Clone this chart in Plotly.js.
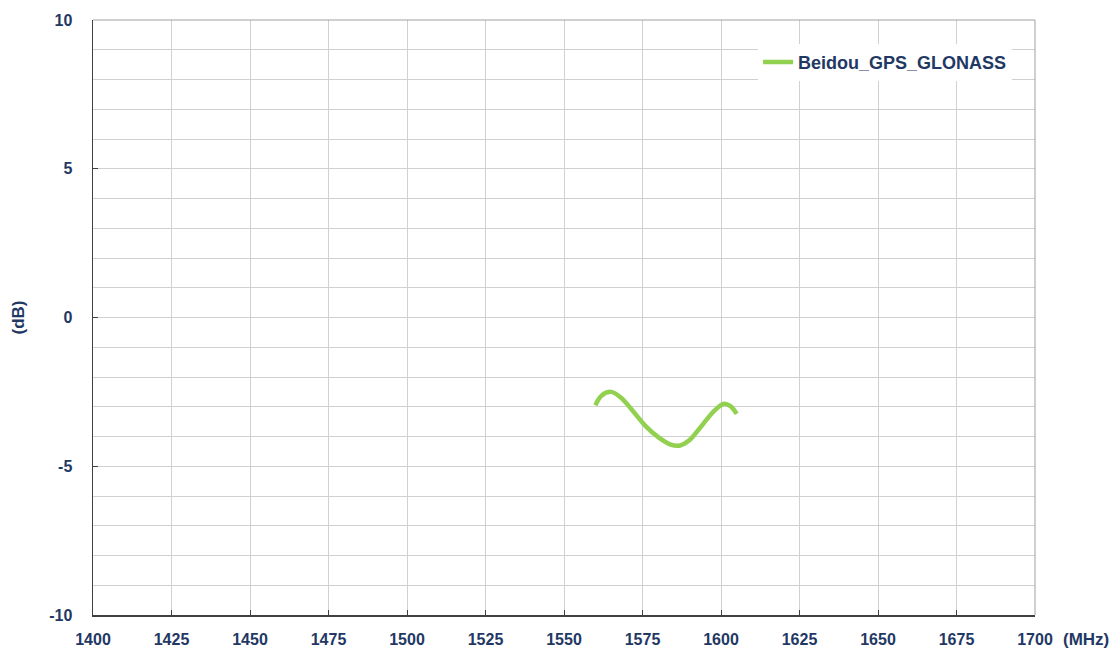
<!DOCTYPE html>
<html>
<head>
<meta charset="utf-8">
<script src="https://cdn.plot.ly/plotly-3.0.1.min.js"></script>
<style>html,body{margin:0;padding:0;background:#fff;}#chart{width:1113px;height:654px;}</style>
</head>
<body>
<div id="chart"></div>
<script>
const seriesName = "Beidou_GPS_GLONASS";
const freqMHz = [1560, 1562, 1565, 1568, 1572, 1576, 1580, 1584, 1587, 1590, 1594, 1598, 1601, 1603, 1605];
const gainDb  = [-2.95, -2.62, -2.5, -2.68, -3.15, -3.65, -4.02, -4.27, -4.3, -4.12, -3.62, -3.12, -2.9, -2.98, -3.24];
const xTicks = [1400, 1425, 1450, 1475, 1500, 1525, 1550, 1575, 1600, 1625, 1650, 1675, 1700];
const yTicks = [-10, -5, 0, 5, 10];

const txt = '#1f3864';
const fam = '"Liberation Sans", Arial, sans-serif';

Plotly.newPlot('chart', [{
  x: freqMHz, y: gainDb, name: seriesName, type: 'scatter', mode: 'lines',
  line: {color: '#92d050', width: 4.5, shape: 'spline', smoothing: 1}
}], {
  width: 1113, height: 654,
  margin: {l: 93, r: 78, t: 20, b: 39},
  paper_bgcolor: '#fff', plot_bgcolor: '#fff',
  showlegend: true,
  legend: {x: 0.706, y: 0.96, xanchor: 'left', yanchor: 'top', bgcolor: '#fff',
    font: {family: fam, size: 18, color: txt, weight: 'bold'}, itemwidth: 30},
  xaxis: {range: [1400, 1700], tickvals: xTicks, ticktext: xTicks.map(String),
    showgrid: true, gridcolor: '#d0d0d0', gridwidth: 1, zeroline: false,
    showline: true, linecolor: '#404040', linewidth: 1.5,
    ticks: 'inside', ticklen: 5, tickcolor: '#404040', ticklabelstandoff: 9,
    tickfont: {family: fam, size: 16, color: txt, weight: 'bold'}},
  yaxis: {range: [-10, 10], tickvals: yTicks, ticktext: yTicks.map(String),
    showgrid: true, gridcolor: '#d0d0d0', gridwidth: 1, zeroline: false,
    minor: {dtick: 1, showgrid: true, gridcolor: '#d0d0d0', gridwidth: 1},
    showline: true, linecolor: '#404040', linewidth: 1.5,
    ticks: 'inside', ticklen: 5, tickcolor: '#404040', ticklabelstandoff: 16,
    tickfont: {family: fam, size: 16, color: txt, weight: 'bold'},
    title: {text: '(dB)', standoff: 20, font: {family: fam, size: 17, color: txt, weight: 'bold'}}},
  shapes: [
    {type: 'line', xref: 'paper', yref: 'paper', x0: 0, x1: 1, y0: 1, y1: 1, line: {color: '#a0a0a0', width: 1}},
    {type: 'line', xref: 'paper', yref: 'paper', x0: 1, x1: 1, y0: 0, y1: 1, line: {color: '#a0a0a0', width: 1}}
  ],
  annotations: [
    {text: '(MHz)', xref: 'paper', yref: 'paper', x: 1.028, y: 0, yanchor: 'top', xanchor: 'left', yshift: -13,
     showarrow: false, font: {family: fam, size: 17, color: txt, weight: 'bold'}}
  ]
}, {displayModeBar: false, staticPlot: true});
</script>
</body>
</html>
